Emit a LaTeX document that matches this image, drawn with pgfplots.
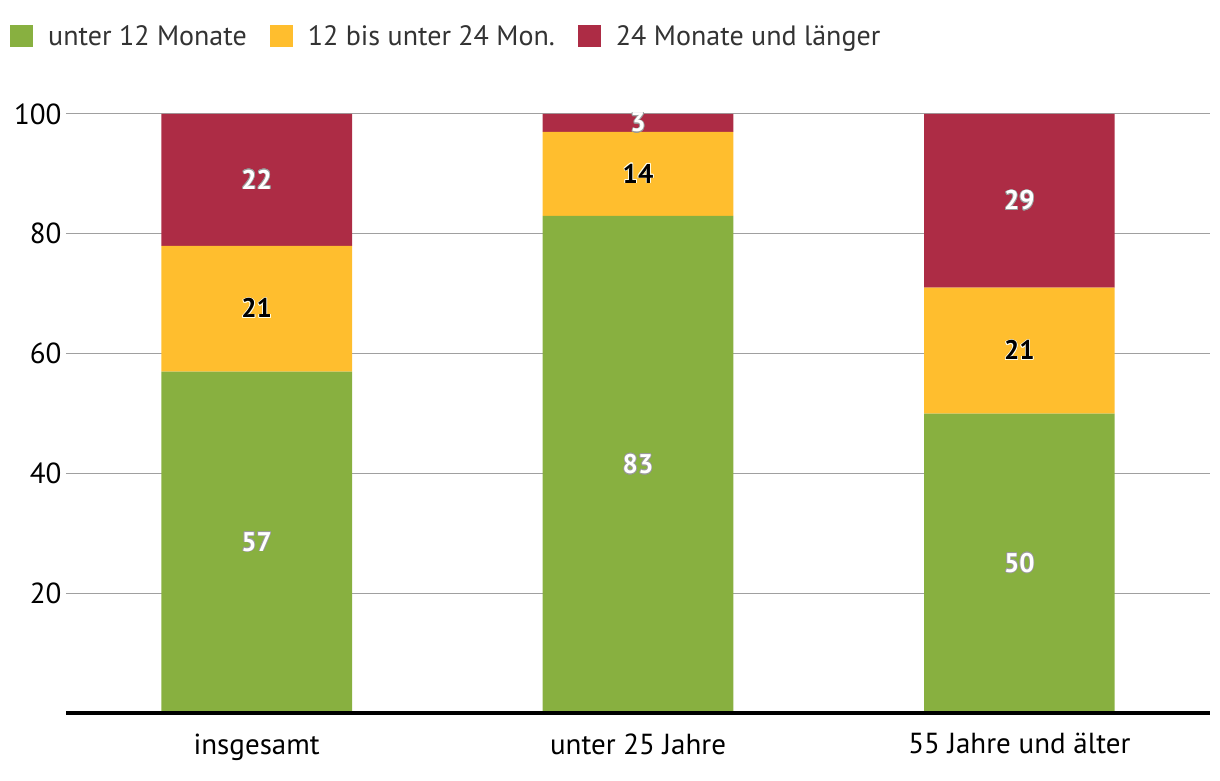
\documentclass[border=0pt]{standalone}
\usepackage{fontspec}
\setmainfont{PT Sans}
\usepackage{pgfplots}
\pgfplotsset{compat=1.18}
\usepackage[copies]{contour}
\contourlength{0.7pt}

\definecolor{cgreen}{HTML}{88B040}
\definecolor{cyellow}{HTML}{FFBE2E}
\definecolor{cred}{HTML}{AD2C45}
\definecolor{cgrid}{HTML}{A0A0A0}
\definecolor{ctext}{HTML}{333333}

\newcommand{\ticksize}{\fontsize{29}{33}\selectfont}
\newcommand{\legsize}{\fontsize{28}{33}\selectfont}
\newcommand{\lblsize}{\fontsize{27}{30}\selectfont\bfseries}

\begin{document}
\begin{tikzpicture}
\begin{axis}[
    scale only axis,
    width=1144pt, height=599pt,
    xmin=-0.5, xmax=2.5,
    ymin=0, ymax=100,
    ybar stacked,
    bar width=0.5,
    xtick={0,1,2},
    xticklabels={insgesamt, unter 25 Jahre, 55 Jahre und älter},
    ytick={20,40,60,80,100},
    major tick length=0pt,
    axis line style={draw=none},
    ymajorgrids=true,
    grid style={line width=1pt, draw=cgrid},
    tick label style={font=\ticksize, text=black},
    /pgf/number format/assume math mode=true,
    yticklabel style={xshift=-1pt},
    xticklabel style={yshift=-17pt},
    legend columns=3,
    legend style={
        at={([xshift=-56pt,yshift=78pt]axis description cs:0,1)},
        anchor=west, draw=none, fill=none, inner sep=0pt,
        font=\legsize, text=ctext,
        /tikz/every even column/.append style={column sep=21pt},
        cells={anchor=west},
    },
    legend image code/.code={\fill (0pt,-11pt) rectangle (23pt,11pt);},
]
\addplot[fill=cgreen, draw=none] coordinates {(0,57) (1,83) (2,50)};
\addlegendentry{\hspace{13pt}unter 12 Monate}
\addplot[fill=cyellow, draw=none] coordinates {(0,21) (1,14) (2,21)};
\addlegendentry{\hspace{13pt}12 bis unter 24 Mon.}
\addplot[fill=cred, draw=none] coordinates {(0,22) (1,3) (2,29)};
\addlegendentry{\hspace{13pt}24 Monate und länger}
\end{axis}

\begin{axis}[
    scale only axis,
    width=1144pt, height=599pt,
    xmin=-0.5, xmax=2.5,
    ymin=0, ymax=100,
    xtick=\empty, ytick=\empty,
    axis x line*=bottom, axis y line*=left,
    x axis line style={line width=3.5pt, black},
    y axis line style={draw=none},
    clip=false,
    nodes near coords style={anchor=center},
    point meta=explicit symbolic,
]
\addplot[draw=none, mark=none, nodes near coords={\lblsize\contour{black!40}{\pgfplotspointmeta}},
    nodes near coords style={text=white}]
    coordinates {(0,28.5)[57] (1,41.5)[83] (2,25)[50] (0,89)[22] (1,98.5)[3] (2,85.5)[29]};
\addplot[draw=none, mark=none, nodes near coords={\lblsize\contour{white!90!yellow}{\pgfplotspointmeta}},
    nodes near coords style={text=black}]
    coordinates {(0,67.5)[21] (1,90)[14] (2,60.5)[21]};
\end{axis}
\pgfresetboundingbox
\path (current axis.south west) ++(-66pt,-67pt) rectangle ++(1220pt,780pt);
\end{tikzpicture}
\end{document}
